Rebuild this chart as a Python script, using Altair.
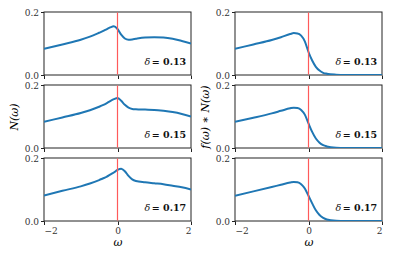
import altair as alt
import pandas as pd

omega = [-2, -1.5, -1, -0.75, -0.5, -0.4, -0.3, -0.2, -0.1, 0, 0.1, 0.2, 0.3, 0.4, 0.5, 0.75, 1, 1.25, 1.5, 1.75, 2]

N13 = [0.083, 0.097, 0.112, 0.122, 0.134, 0.139, 0.145, 0.151, 0.155, 0.146, 0.128, 0.116, 0.112, 0.113, 0.115, 0.119, 0.120, 0.119, 0.115, 0.108, 0.100]
N15 = [0.083, 0.097, 0.111, 0.120, 0.131, 0.136, 0.142, 0.149, 0.155, 0.159, 0.150, 0.137, 0.128, 0.124, 0.123, 0.122, 0.121, 0.118, 0.114, 0.108, 0.100]
N17 = [0.081, 0.096, 0.110, 0.119, 0.130, 0.135, 0.140, 0.147, 0.154, 0.162, 0.166, 0.158, 0.143, 0.132, 0.127, 0.123, 0.120, 0.117, 0.112, 0.107, 0.100]

fN13 = [0.083, 0.097, 0.111, 0.120, 0.130, 0.133, 0.132, 0.125, 0.107, 0.073, 0.046, 0.026, 0.014, 0.007, 0.004, 0.001, 0.0, 0.0, 0.0, 0.0, 0.0]
fN15 = [0.083, 0.096, 0.110, 0.118, 0.126, 0.128, 0.127, 0.121, 0.106, 0.078, 0.051, 0.030, 0.017, 0.009, 0.005, 0.001, 0.0, 0.0, 0.0, 0.0, 0.0]
fN17 = [0.080, 0.094, 0.108, 0.115, 0.122, 0.124, 0.123, 0.117, 0.103, 0.080, 0.056, 0.034, 0.019, 0.010, 0.005, 0.001, 0.0, 0.0, 0.0, 0.0, 0.0]

deltas = ["0.13", "0.15", "0.17"]

W, H = 147, 63
FONT = "DejaVu Serif"
EDGE = "#222222"


def panel(vals, delta, bottom, ytitle):
    df = pd.DataFrame({"w": omega, "v": vals})
    xaxis = alt.Axis(values=[-2, -1, 0, 1, 2], labels=bottom, ticks=True, tickSize=3.5, tickWidth=1,
                     domain=False, grid=False,
                     labelFont=FONT, labelFontSize=9,
                     labelColor="#333", tickColor=EDGE, labelPadding=2,
                     title="ω" if bottom else None, titleFont=FONT, titleFontSize=11,
                     titleFontWeight="normal", titleFontStyle="italic", titlePadding=1,
                     labelExpr="replace(datum.label, '-', '−')")
    yaxis = alt.Axis(values=[0, 0.1, 0.2], format=".1f", tickSize=3.5, tickWidth=1,
                     domain=False, grid=False,
                     labelFont=FONT, labelFontSize=9, labelColor="#333", tickColor=EDGE,
                     labelPadding=2, title=ytitle, titleFont=FONT, titleFontSize=11,
                     titleFontWeight="normal", titleFontStyle="italic", titlePadding=5)
    x = alt.X("w:Q", scale=alt.Scale(domain=[-2, 2], nice=False, zero=False), axis=xaxis)
    y = alt.Y("v:Q", scale=alt.Scale(domain=[0, 0.2], nice=False), axis=yaxis)
    outer = alt.Chart(pd.DataFrame({"a": [0]})).mark_rect(fill=EDGE, opacity=1).encode(
        x=alt.value(-0.5), x2=alt.value(W + 0.5), y=alt.value(-0.5), y2=alt.value(H + 0.5))
    inner = alt.Chart(pd.DataFrame({"a": [0]})).mark_rect(fill="white", opacity=1).encode(
        x=alt.value(0.5), x2=alt.value(W - 0.5), y=alt.value(0.5), y2=alt.value(H - 0.5))
    line = alt.Chart(df).mark_line(color="#1f77b4", strokeWidth=2, interpolate="monotone", clip=True).encode(x=x, y=y)
    rule = alt.Chart(pd.DataFrame({"w": [0]})).mark_rule(
        color="#ff5a5a", strokeWidth=1.2
    ).encode(x=alt.X("w:Q"), y=alt.value(0.5), y2=alt.value(H - 0.5))
    t1 = alt.Chart(pd.DataFrame({"w": [1.87], "v": [0.04], "t": ["= " + delta]})).mark_text(
        align="right", baseline="middle", font=FONT, fontSize=9.5, fontWeight="bold", color="#111"
    ).encode(x="w:Q", y="v:Q", text="t:N")
    t2 = alt.Chart(pd.DataFrame({"w": [1.87], "v": [0.04], "t": ["δ"]})).mark_text(
        align="right", baseline="middle", font=FONT, fontSize=9.5, fontStyle="italic", color="#111", dx=-36
    ).encode(x="w:Q", y="v:Q", text="t:N")
    return alt.layer(outer, inner, line, rule, t1, t2).properties(width=W, height=H)


left = alt.vconcat(*[panel(v, d, i == 2, "N(ω)" if i == 1 else None)
                     for i, (v, d) in enumerate(zip([N13, N15, N17], deltas))], spacing=1)
right = alt.vconcat(*[panel(v, d, i == 2, "f(ω) ∗ N(ω)" if i == 1 else None)
                      for i, (v, d) in enumerate(zip([fN13, fN15, fN17], deltas))], spacing=1)

chart = alt.hconcat(left, right, spacing=7).properties(
    padding={"left": 0, "top": 0, "right": 0, "bottom": 0}
).configure(background="white").configure_view(strokeWidth=0)

chart.save("out.html", embed_options={"renderer": "svg", "actions": False})
